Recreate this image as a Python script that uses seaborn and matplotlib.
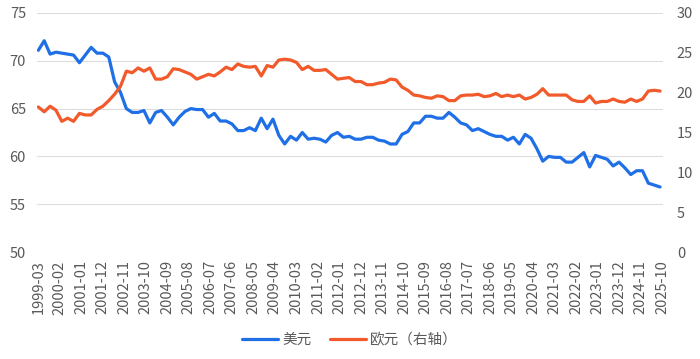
import matplotlib.pyplot as plt
import numpy as np
import pandas as pd
import seaborn as sns

# quarterly shares, 1999-03 onward
usd_share = [71.1, 72.1, 70.7, 70.9, 70.8, 70.7, 70.6, 69.8, 70.6, 71.4, 70.8, 70.8, 70.4, 67.8, 66.7,
             65.0, 64.6, 64.6, 64.8, 63.5, 64.6, 64.8, 64.1, 63.3, 64.1, 64.7, 65.0, 64.9, 64.9, 64.1,
             64.5, 63.7, 63.7, 63.4, 62.7,
             62.7, 63.0, 62.7, 64.0, 62.9, 63.9, 62.2, 61.3, 62.1, 61.7, 62.5, 61.8, 61.9, 61.8, 61.5,
             62.2, 62.5, 62.0, 62.1, 61.8, 61.8, 62.0, 62.0, 61.7, 61.6, 61.3, 61.3, 62.3, 62.6, 63.5,
             63.5, 64.2, 64.2, 64.0,
             64.0, 64.6, 64.1, 63.5, 63.3, 62.7, 62.9, 62.6, 62.3, 62.1, 62.1, 61.7, 62.0, 61.3, 62.3,
             61.9, 60.8, 59.5, 60.0, 59.9, 59.9, 59.4, 59.4, 59.9, 60.4, 58.9, 60.1, 59.9, 59.7, 59.0,
             59.4, 58.8, 58.1, 58.5, 58.5, 57.2, 57.0, 56.8]
eur_share = [18.2, 17.6, 18.3, 17.8, 16.4, 16.8, 16.4, 17.4, 17.2, 17.2, 17.9, 18.3, 19.0, 19.8, 20.8,
             22.7, 22.5, 23.1, 22.7, 23.1, 21.7, 21.7, 22.0, 23.0, 22.9, 22.6, 22.3, 21.7, 22.0, 22.3,
             22.1, 22.6, 23.2, 22.9, 23.6,
             23.3, 23.2, 23.3, 22.1, 23.4, 23.2, 24.1, 24.2, 24.1, 23.8, 22.9, 23.3, 22.8, 22.8, 22.9,
             22.3, 21.7, 21.8, 21.9, 21.4, 21.4, 21.0, 21.0, 21.2, 21.3, 21.7, 21.6, 20.7, 20.3, 19.7,
             19.6, 19.4, 19.3, 19.6,
             19.5, 19.0, 19.0, 19.6, 19.7, 19.7, 19.8, 19.5, 19.6, 19.9, 19.5, 19.7, 19.5, 19.7, 19.2,
             19.4, 19.8, 20.5, 19.7, 19.7, 19.7, 19.7, 19.1, 18.9, 18.9, 19.6, 18.7, 18.9, 18.9, 19.2,
             18.9, 18.8, 19.2, 18.9, 19.2, 20.2, 20.3, 20.2]
tick_labels = ['1999-03', '2000-02', '2001-01', '2001-12', '2002-11', '2003-10', '2004-09', '2005-08',
               '2006-07', '2007-06', '2008-05', '2009-04', '2010-03', '2011-02', '2012-01', '2012-12',
               '2013-11', '2014-10', '2015-09', '2016-08', '2017-07', '2018-06', '2019-05', '2020-04',
               '2021-03', '2022-02', '2023-01', '2023-12', '2024-11', '2025-10']

sns.set_style('white')
plt.rcParams['font.family'] = ['Noto Sans CJK SC', 'DejaVu Sans']

blue = '#1f6fe6'
orange = '#f25a2b'
grey = '#595959'

# month index from 1999-03, one point per quarter
df = pd.DataFrame({'month': np.arange(len(usd_share)) * 3, 'usd': usd_share, 'eur': eur_share})
tick_pos = np.arange(len(tick_labels)) * 11

fig = plt.figure(figsize=(7, 3.59), dpi=100)
ax = fig.add_axes([37 / 700, 1 - 252 / 359, 626 / 700, 239 / 359])
ax2 = ax.twinx()

sns.lineplot(data=df, x='month', y='usd', ax=ax, color=blue, linewidth=2.3, label='美元', legend=False)
sns.lineplot(data=df, x='month', y='eur', ax=ax2, color=orange, linewidth=2.3, label='欧元（右轴）', legend=False)

ax.set_xlim(-0.7, 319.5)
ax.set_ylim(50, 75)
ax.set_yticks(np.arange(50, 76, 5))
ax2.set_ylim(0, 30)
ax2.set_yticks(np.arange(0, 31, 5))
ax.set_xticks(tick_pos)
ax.set_xticklabels(tick_labels, rotation=90)
ax.set_xlabel('')
ax.set_ylabel('')
ax2.set_ylabel('')

ax.grid(axis='y', color='#dcdcdc', linewidth=0.8)
ax.grid(axis='x', visible=False)
ax2.grid(False)
for a in (ax, ax2):
    for s in a.spines.values():
        s.set_visible(False)
    a.tick_params(length=0, labelsize=10.5, colors=grey)
ax.tick_params(axis='x', pad=6)
ax.tick_params(axis='y', pad=8)
ax2.tick_params(axis='y', pad=10)

h1, l1 = ax.get_legend_handles_labels()
h2, l2 = ax2.get_legend_handles_labels()
fig.legend(h1 + h2, l1 + l2, loc='center', bbox_to_anchor=(0.5, 19 / 359), ncol=2, frameon=False,
           fontsize=10.5, handlelength=2.5, columnspacing=1.2, handletextpad=0.3, labelcolor=grey)

fig.savefig('out.png', dpi=100)
